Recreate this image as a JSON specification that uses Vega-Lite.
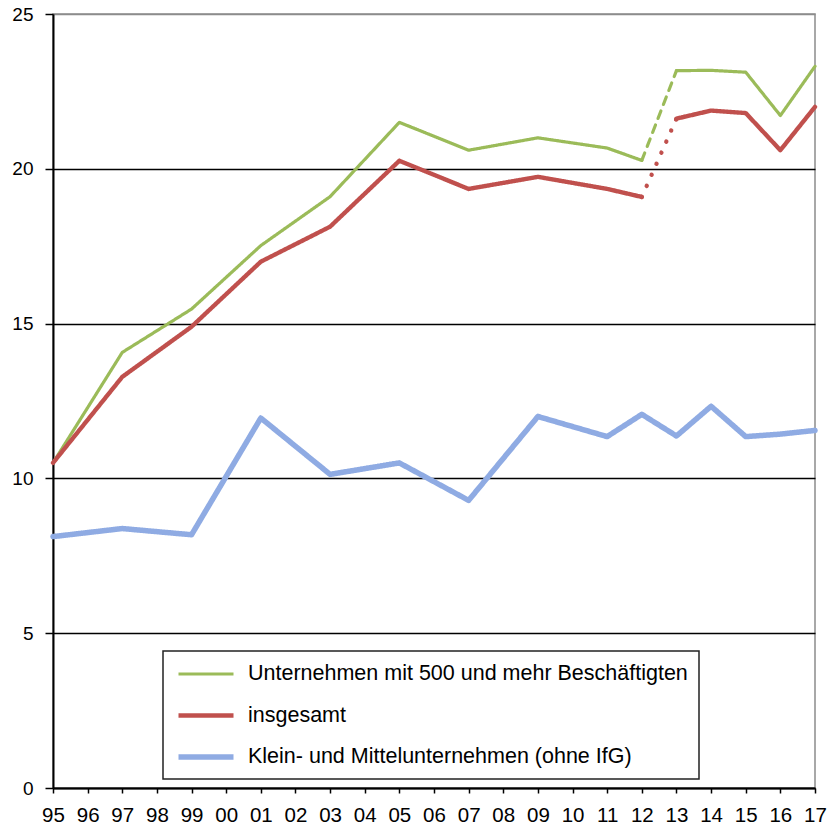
{
  "$schema": "https://vega.github.io/schema/vega-lite/v6.json",
  "width": 762,
  "height": 774,
  "autosize": "none",
  "padding": {"left": 53, "top": 14, "right": 12, "bottom": 39},
  "background": "white",
  "config": {
    "view": {"stroke": "#8c8c8c", "strokeWidth": 1.5},
    "font": "Liberation Sans",
    "legend": {
      "title": null,
      "orient": "none",
      "legendX": 110,
      "legendY": 637,
      "padding": 11,
      "strokeColor": "#222222",
      "strokeWidth": 1.5,
      "fillColor": "white",
      "symbolType": "M-2.75,0H2.75",
      "symbolSize": 400,
      "symbolOffset": 19,
      "labelFontSize": 21.5,
      "labelFont": "Liberation Sans",
      "labelColor": "black",
      "labelOffset": 29,
      "labelLimit": 700,
      "rowPadding": 18
    }
  },
  "data": {
    "values": [
      {"series": "Unternehmen mit 500 und mehr Beschäftigten", "year": 1995, "value": 10.5, "seg": "a", "style": "solid"},
      {"series": "Unternehmen mit 500 und mehr Beschäftigten", "year": 1997, "value": 14.07, "seg": "a", "style": "solid"},
      {"series": "Unternehmen mit 500 und mehr Beschäftigten", "year": 1999, "value": 15.47, "seg": "a", "style": "solid"},
      {"series": "Unternehmen mit 500 und mehr Beschäftigten", "year": 2001, "value": 17.52, "seg": "a", "style": "solid"},
      {"series": "Unternehmen mit 500 und mehr Beschäftigten", "year": 2003, "value": 19.1, "seg": "a", "style": "solid"},
      {"series": "Unternehmen mit 500 und mehr Beschäftigten", "year": 2005, "value": 21.5, "seg": "a", "style": "solid"},
      {"series": "Unternehmen mit 500 und mehr Beschäftigten", "year": 2007, "value": 20.6, "seg": "a", "style": "solid"},
      {"series": "Unternehmen mit 500 und mehr Beschäftigten", "year": 2009, "value": 21.0, "seg": "a", "style": "solid"},
      {"series": "Unternehmen mit 500 und mehr Beschäftigten", "year": 2011, "value": 20.67, "seg": "a", "style": "solid"},
      {"series": "Unternehmen mit 500 und mehr Beschäftigten", "year": 2012, "value": 20.27, "seg": "a", "style": "solid"},
      {"series": "Unternehmen mit 500 und mehr Beschäftigten", "year": 2012, "value": 20.27, "seg": "break", "style": "dash"},
      {"series": "Unternehmen mit 500 und mehr Beschäftigten", "year": 2013, "value": 23.17, "seg": "break", "style": "dash"},
      {"series": "Unternehmen mit 500 und mehr Beschäftigten", "year": 2013, "value": 23.17, "seg": "b", "style": "solid"},
      {"series": "Unternehmen mit 500 und mehr Beschäftigten", "year": 2014, "value": 23.18, "seg": "b", "style": "solid"},
      {"series": "Unternehmen mit 500 und mehr Beschäftigten", "year": 2015, "value": 23.12, "seg": "b", "style": "solid"},
      {"series": "Unternehmen mit 500 und mehr Beschäftigten", "year": 2016, "value": 21.72, "seg": "b", "style": "solid"},
      {"series": "Unternehmen mit 500 und mehr Beschäftigten", "year": 2017, "value": 23.31, "seg": "b", "style": "solid"},
      {"series": "insgesamt", "year": 1995, "value": 10.5, "seg": "a", "style": "solid"},
      {"series": "insgesamt", "year": 1997, "value": 13.28, "seg": "a", "style": "solid"},
      {"series": "insgesamt", "year": 1999, "value": 14.9, "seg": "a", "style": "solid"},
      {"series": "insgesamt", "year": 2001, "value": 17.0, "seg": "a", "style": "solid"},
      {"series": "insgesamt", "year": 2003, "value": 18.13, "seg": "a", "style": "solid"},
      {"series": "insgesamt", "year": 2005, "value": 20.26, "seg": "a", "style": "solid"},
      {"series": "insgesamt", "year": 2007, "value": 19.35, "seg": "a", "style": "solid"},
      {"series": "insgesamt", "year": 2009, "value": 19.74, "seg": "a", "style": "solid"},
      {"series": "insgesamt", "year": 2011, "value": 19.35, "seg": "a", "style": "solid"},
      {"series": "insgesamt", "year": 2012, "value": 19.09, "seg": "a", "style": "solid"},
      {"series": "insgesamt", "year": 2012, "value": 19.09, "seg": "break", "style": "dot"},
      {"series": "insgesamt", "year": 2013, "value": 21.62, "seg": "break", "style": "dot"},
      {"series": "insgesamt", "year": 2013, "value": 21.62, "seg": "b", "style": "solid"},
      {"series": "insgesamt", "year": 2014, "value": 21.88, "seg": "b", "style": "solid"},
      {"series": "insgesamt", "year": 2015, "value": 21.8, "seg": "b", "style": "solid"},
      {"series": "insgesamt", "year": 2016, "value": 20.6, "seg": "b", "style": "solid"},
      {"series": "insgesamt", "year": 2017, "value": 22.0, "seg": "b", "style": "solid"},
      {"series": "Klein- und Mittelunternehmen (ohne IfG)", "year": 1995, "value": 8.12, "seg": "a", "style": "solid"},
      {"series": "Klein- und Mittelunternehmen (ohne IfG)", "year": 1997, "value": 8.38, "seg": "a", "style": "solid"},
      {"series": "Klein- und Mittelunternehmen (ohne IfG)", "year": 1999, "value": 8.18, "seg": "a", "style": "solid"},
      {"series": "Klein- und Mittelunternehmen (ohne IfG)", "year": 2001, "value": 11.95, "seg": "a", "style": "solid"},
      {"series": "Klein- und Mittelunternehmen (ohne IfG)", "year": 2003, "value": 10.13, "seg": "a", "style": "solid"},
      {"series": "Klein- und Mittelunternehmen (ohne IfG)", "year": 2005, "value": 10.5, "seg": "a", "style": "solid"},
      {"series": "Klein- und Mittelunternehmen (ohne IfG)", "year": 2007, "value": 9.29, "seg": "a", "style": "solid"},
      {"series": "Klein- und Mittelunternehmen (ohne IfG)", "year": 2009, "value": 12.0, "seg": "a", "style": "solid"},
      {"series": "Klein- und Mittelunternehmen (ohne IfG)", "year": 2011, "value": 11.35, "seg": "a", "style": "solid"},
      {"series": "Klein- und Mittelunternehmen (ohne IfG)", "year": 2012, "value": 12.07, "seg": "a", "style": "solid"},
      {"series": "Klein- und Mittelunternehmen (ohne IfG)", "year": 2013, "value": 11.37, "seg": "a", "style": "solid"},
      {"series": "Klein- und Mittelunternehmen (ohne IfG)", "year": 2014, "value": 12.33, "seg": "a", "style": "solid"},
      {"series": "Klein- und Mittelunternehmen (ohne IfG)", "year": 2015, "value": 11.35, "seg": "a", "style": "solid"},
      {"series": "Klein- und Mittelunternehmen (ohne IfG)", "year": 2016, "value": 11.43, "seg": "a", "style": "solid"},
      {"series": "Klein- und Mittelunternehmen (ohne IfG)", "year": 2017, "value": 11.55, "seg": "a", "style": "solid"}
    ]
  },
  "mark": {"type": "line", "strokeCap": "round", "strokeJoin": "round"},
  "encoding": {
    "x": {
      "field": "year",
      "type": "quantitative",
      "scale": {"domain": [1995, 2017], "nice": false, "zero": false},
      "axis": {
        "title": null,
        "values": [1995, 1996, 1997, 1998, 1999, 2000, 2001, 2002, 2003, 2004, 2005, 2006, 2007, 2008, 2009, 2010, 2011, 2012, 2013, 2014, 2015, 2016, 2017],
        "labelExpr": "substring(toString(datum.value), 2)",
        "grid": false,
        "domainColor": "black",
        "domainWidth": 2,
        "tickColor": "black",
        "tickWidth": 1.5,
        "tickSize": 5,
        "labelPadding": 12,
        "labelFontSize": 20.5,
        "labelColor": "black",
        "labelFont": "Liberation Sans",
        "labelFlush": false,
        "labelOverlap": false
      }
    },
    "y": {
      "field": "value",
      "type": "quantitative",
      "scale": {"domain": [0, 25], "nice": false},
      "axis": {
        "title": null,
        "values": [0, 5, 10, 15, 20, 25],
        "grid": true,
        "gridColor": {"condition": {"test": "datum.value == 25", "value": "#8c8c8c"}, "value": "black"},
        "gridWidth": 1.5,
        "domainColor": "black",
        "domainWidth": 2,
        "tickColor": "black",
        "tickWidth": 1.5,
        "tickSize": 8,
        "labelPadding": 12,
        "labelFontSize": 19,
        "labelColor": "black",
        "labelFont": "Liberation Sans"
      }
    },
    "color": {
      "field": "series",
      "type": "nominal",
      "scale": {
        "domain": ["Unternehmen mit 500 und mehr Beschäftigten", "insgesamt", "Klein- und Mittelunternehmen (ohne IfG)"],
        "range": ["#9BBB59", "#C0504D", "#8FABE3"]
      }
    },
    "strokeWidth": {
      "field": "series",
      "type": "nominal",
      "scale": {
        "domain": ["Unternehmen mit 500 und mehr Beschäftigten", "insgesamt", "Klein- und Mittelunternehmen (ohne IfG)"],
        "range": [3.2, 5.5, 5.5]
      }
    },
    "strokeDash": {
      "field": "style",
      "type": "nominal",
      "scale": {"domain": ["solid", "dash", "dot"], "range": [[1, 0], [8, 7], [0.1, 12]]},
      "legend": null
    },
    "detail": {"field": "seg", "type": "nominal"}
  }
}
